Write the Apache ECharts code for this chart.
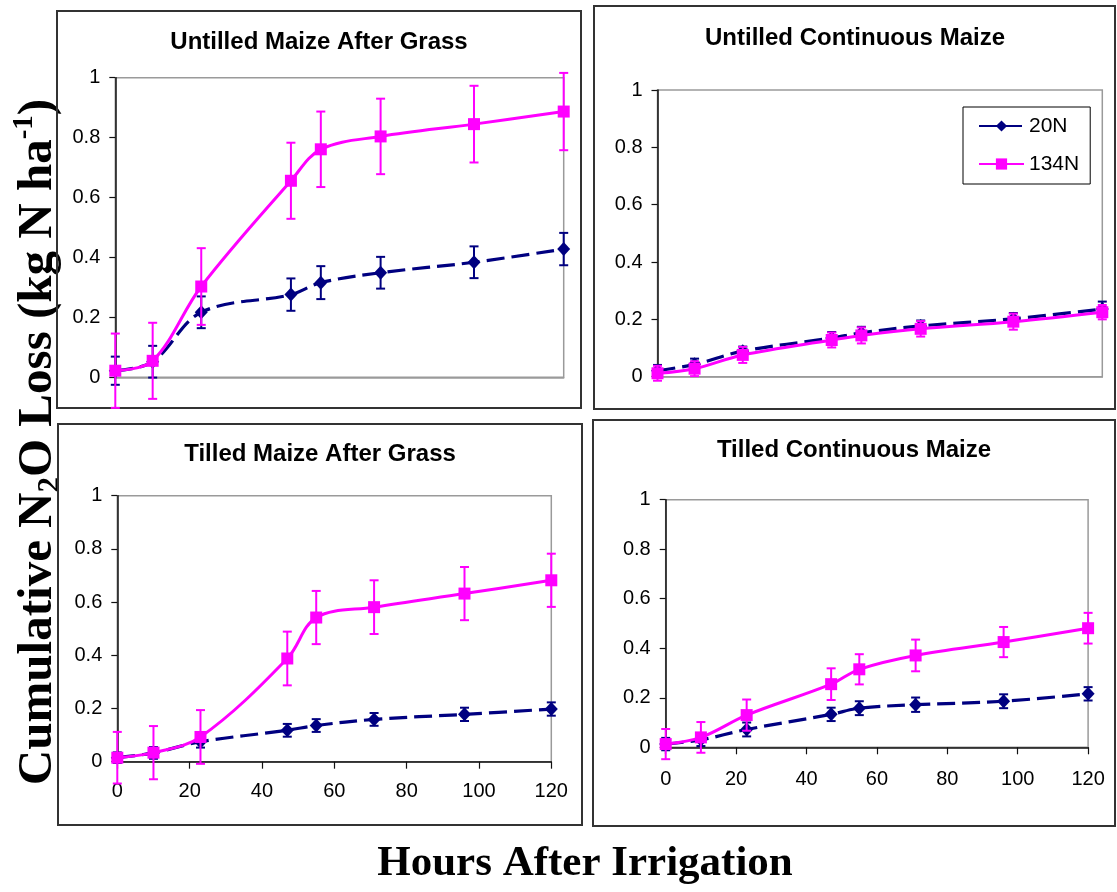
<!DOCTYPE html>
<html>
<head>
<meta charset="utf-8">
<title>Cumulative N2O Loss</title>
<script src="https://cdn.jsdelivr.net/npm/echarts@6/dist/echarts.min.js"></script>
<style>
  html, body { margin: 0; padding: 0; background: #fff; }
  #chart { width: 1117px; height: 892px; }
</style>
</head>
<body>
<div id="chart"></div>
<script>
// Sampling times (hours after irrigation)
const HOURS = [0, 10, 23, 47, 55, 71, 96, 120];

// Axis ranges and tick steps
const X_AXIS = { min: 0, max: 120, step: 20 };
const Y_AXIS = { min: 0, max: 1, step: 0.2 };

const SERIES_NAMES = ['20N', '134N'];
const PANEL_TITLES = [
  'Untilled Maize After Grass',
  'Untilled Continuous Maize',
  'Tilled Maize After Grass',
  'Tilled Continuous Maize'
];

// Cumulative N2O loss (kg N/ha) and standard errors
const UMG_20N      = [0.022, 0.052, 0.217, 0.276, 0.316, 0.349, 0.384, 0.428];
const UMG_20N_SE   = [0.047, 0.053, 0.053, 0.054, 0.055, 0.053, 0.053, 0.054];
const UMG_134N     = [0.022, 0.055, 0.303, 0.656, 0.761, 0.804, 0.845, 0.887];
const UMG_134N_SE  = [0.124, 0.127, 0.128, 0.127, 0.126, 0.126, 0.128, 0.129];

const UCM_20N      = [0.021, 0.043, 0.089, 0.135, 0.153, 0.177, 0.202, 0.236];
const UCM_20N_SE   = [0.020, 0.020, 0.016, 0.021, 0.021, 0.019, 0.020, 0.026];
const UCM_134N     = [0.012, 0.028, 0.076, 0.128, 0.144, 0.167, 0.192, 0.225];
const UCM_134N_SE  = [0.026, 0.026, 0.028, 0.026, 0.028, 0.027, 0.028, 0.025];

const TMG_20N      = [0.015, 0.033, 0.075, 0.118, 0.136, 0.159, 0.178, 0.198];
const TMG_20N_SE   = [0.020, 0.022, 0.022, 0.024, 0.024, 0.024, 0.025, 0.025];
const TMG_134N     = [0.015, 0.034, 0.093, 0.388, 0.542, 0.581, 0.632, 0.682];
const TMG_134N_SE  = [0.097, 0.100, 0.101, 0.101, 0.100, 0.101, 0.100, 0.100];

const TCM_20N      = [0.013, 0.030, 0.072, 0.133, 0.158, 0.172, 0.186, 0.216];
const TCM_20N_SE   = [0.025, 0.025, 0.028, 0.027, 0.028, 0.029, 0.028, 0.027];
const TCM_134N     = [0.013, 0.040, 0.130, 0.255, 0.315, 0.371, 0.425, 0.481];
const TCM_134N_SE  = [0.061, 0.062, 0.063, 0.064, 0.061, 0.064, 0.061, 0.062];

const PANEL_DATA = [
  { low: UMG_20N, lowSe: UMG_20N_SE, high: UMG_134N, highSe: UMG_134N_SE },
  { low: UCM_20N, lowSe: UCM_20N_SE, high: UCM_134N, highSe: UCM_134N_SE },
  { low: TMG_20N, lowSe: TMG_20N_SE, high: TMG_134N, highSe: TMG_134N_SE },
  { low: TCM_20N, lowSe: TCM_20N_SE, high: TCM_134N, highSe: TCM_134N_SE }
];

// Page layout (pixels): outer frame, plot area, title anchor
const LAYOUT = [
  { box: [57, 11, 524, 397],  grid: [115.3, 77.7, 448.4, 299.6], title: [319, 30], xLabels: false },
  { box: [594, 6, 521, 403],  grid: [657.5, 90, 444.8, 286.7],   title: [855, 26], xLabels: false },
  { box: [58, 424, 524, 401], grid: [117.3, 495.7, 434, 266],    title: [320, 442], xLabels: true, margin: 20 },
  { box: [593, 420, 522, 406], grid: [665.7, 499.7, 422.4, 247.6], title: [854, 438], xLabels: true, margin: 22 }
];

const SANS = '"Liberation Sans", Arial, sans-serif';
const SERIF = '"Liberation Serif", "Times New Roman", serif';
const NAVY = '#000080';
const MAGENTA = '#FF00FF';

function errorBars(color) {
  return function (params, api) {
    const x = api.value(0);
    const lo = api.coord([x, api.value(1)]);
    const hi = api.coord([x, api.value(2)]);
    const w = 4.5;
    const style = { stroke: color, lineWidth: 2 };
    return {
      type: 'group',
      children: [
        { type: 'line', shape: { x1: lo[0], y1: lo[1], x2: hi[0], y2: hi[1] }, style },
        { type: 'line', shape: { x1: lo[0] - w, y1: lo[1], x2: lo[0] + w, y2: lo[1] }, style },
        { type: 'line', shape: { x1: hi[0] - w, y1: hi[1], x2: hi[0] + w, y2: hi[1] }, style }
      ]
    };
  };
}

const grids = [], xAxes = [], yAxes = [], series = [], titles = [], frames = [];

LAYOUT.forEach((L, i) => {
  const d = PANEL_DATA[i];
  grids.push({
    left: L.grid[0], top: L.grid[1], width: L.grid[2], height: L.grid[3],
    show: true, borderColor: '#9a9a9a', borderWidth: 1.5, backgroundColor: 'transparent'
  });
  xAxes.push({
    type: 'value', gridIndex: i, min: X_AXIS.min, max: X_AXIS.max, interval: X_AXIS.step,
    splitLine: { show: false },
    axisLine: { show: true, onZero: false, lineStyle: { color: L.xLabels ? '#111' : '#9a9a9a', width: 1.5 } },
    axisTick: { show: L.xLabels, inside: false, length: 7, lineStyle: { color: '#111', width: 1.2 } },
    axisLabel: { show: L.xLabels, margin: L.margin || 20, fontFamily: SANS, fontSize: 20, color: '#000' }
  });
  yAxes.push({
    type: 'value', gridIndex: i, min: Y_AXIS.min, max: Y_AXIS.max, interval: Y_AXIS.step,
    splitLine: { show: false },
    axisLine: { show: true, onZero: false, lineStyle: { color: '#111', width: 1.5 } },
    axisTick: { show: true, inside: false, length: 6, lineStyle: { color: '#111', width: 1.2 } },
    axisLabel: { margin: 15, fontFamily: SANS, fontSize: 20, color: '#000' }
  });

  series.push({
    name: SERIES_NAMES[0], type: 'line', xAxisIndex: i, yAxisIndex: i,
    data: HOURS.map((h, k) => [h, d.low[k]]),
    smooth: 0.35, symbol: 'diamond', symbolSize: [13, 14], showAllSymbol: true,
    lineStyle: { color: NAVY, width: 3.2, type: [18, 7] },
    itemStyle: { color: NAVY }, z: 3, animation: false
  });
  series.push({
    name: SERIES_NAMES[0], type: 'custom', xAxisIndex: i, yAxisIndex: i,
    data: HOURS.map((h, k) => [h, d.low[k] - d.lowSe[k], d.low[k] + d.lowSe[k]]),
    encode: { x: 0, y: [1, 2] }, renderItem: errorBars(NAVY), z: 3, silent: true, animation: false
  });
  series.push({
    name: SERIES_NAMES[1], type: 'line', xAxisIndex: i, yAxisIndex: i,
    data: HOURS.map((h, k) => [h, d.high[k]]),
    smooth: 0.35, symbol: 'rect', symbolSize: 12, showAllSymbol: true,
    lineStyle: { color: MAGENTA, width: 3 },
    itemStyle: { color: MAGENTA }, z: 4, animation: false
  });
  series.push({
    name: SERIES_NAMES[1], type: 'custom', xAxisIndex: i, yAxisIndex: i,
    data: HOURS.map((h, k) => [h, d.high[k] - d.highSe[k], d.high[k] + d.highSe[k]]),
    encode: { x: 0, y: [1, 2] }, renderItem: errorBars(MAGENTA), z: 4, silent: true, animation: false
  });

  titles.push({
    text: PANEL_TITLES[i], left: L.title[0], top: L.title[1], textAlign: 'center', padding: 0,
    textStyle: { fontFamily: SANS, fontSize: 24, fontWeight: 'bold', color: '#000' }
  });
  frames.push({
    type: 'rect', shape: { x: L.box[0], y: L.box[1], width: L.box[2], height: L.box[3] },
    style: { fill: 'none', stroke: '#333', lineWidth: 2 }, z: 1, silent: true
  });
});

const option = {
  animation: false,
  backgroundColor: '#fff',
  title: titles,
  grid: grids,
  xAxis: xAxes,
  yAxis: yAxes,
  legend: {
    data: SERIES_NAMES.map(n => ({ name: n })),
    orient: 'vertical', left: 963, top: 107,
    itemWidth: 45, itemHeight: 14, itemGap: 14,
    padding: [7, 11, 8, 15],
    borderColor: '#000', borderWidth: 1, backgroundColor: '#fff',
    textStyle: { fontFamily: SANS, fontSize: 21, color: '#000', lineHeight: 24 }
  },
  graphic: frames.concat([
    {
      type: 'text', x: 38, y: 442, rotation: Math.PI / 2, silent: true,
      style: {
        text: '{m|Cumulative N}{s|2}{m|O Loss (kg N ha}{p|-1}{m|)}',
        align: 'center', verticalAlign: 'middle',
        rich: {
          m: { fontFamily: SERIF, fontSize: 49, fontWeight: 'bold', fill: '#000', lineHeight: 56 },
          s: { fontFamily: SERIF, fontSize: 31, fontWeight: 'bold', fill: '#000', verticalAlign: 'bottom', lineHeight: 32 },
          p: { fontFamily: SERIF, fontSize: 29, fontWeight: 'bold', fill: '#000', verticalAlign: 'top', lineHeight: 30 }
        }
      }
    },
    {
      type: 'text', x: 585, y: 864, silent: true,
      style: {
        text: 'Hours After Irrigation', align: 'center', verticalAlign: 'middle',
        fontFamily: SERIF, fontSize: 43, fontWeight: 'bold', fill: '#000'
      }
    }
  ]),
  series: series
};

const chart = echarts.init(document.getElementById('chart'), null, { renderer: 'canvas' });
chart.setOption(option);
</script>
</body>
</html>
